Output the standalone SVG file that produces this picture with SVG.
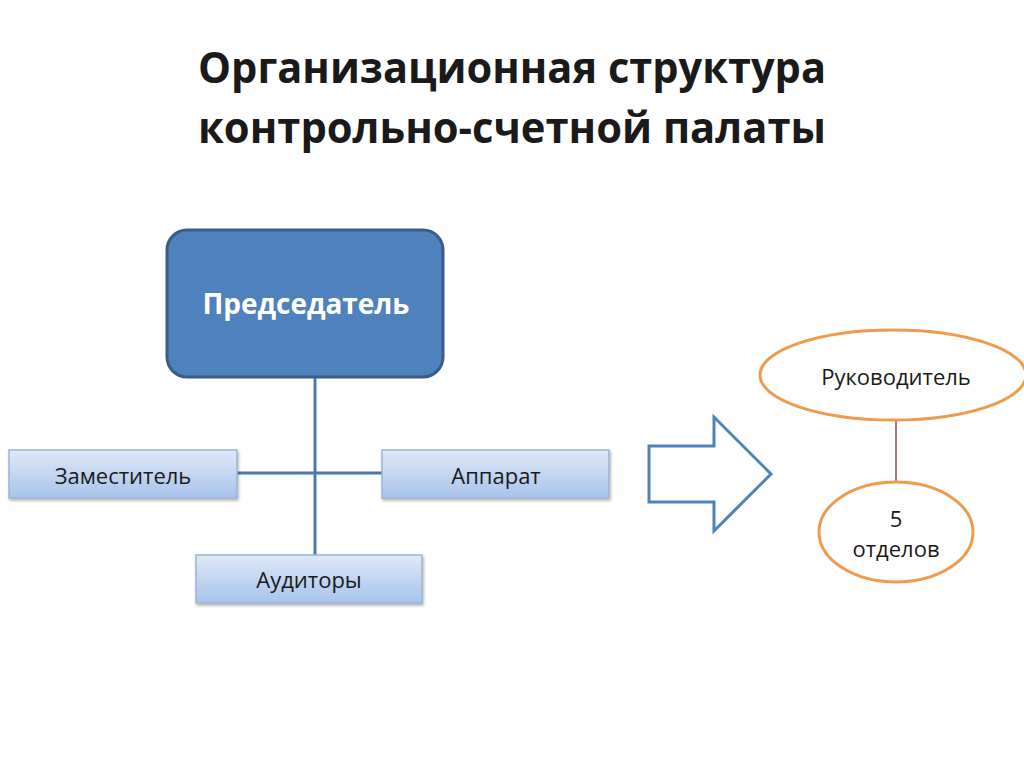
<svg xmlns="http://www.w3.org/2000/svg" width="1024" height="767" viewBox="0 0 1024 767">
<defs>
<linearGradient id="g" x1="0" y1="0" x2="0" y2="1">
<stop offset="0" stop-color="#dfe9f7"/>
<stop offset="1" stop-color="#a8c3ea"/>
</linearGradient>
<filter id="sh" x="-10%" y="-10%" width="130%" height="140%">
<feDropShadow dx="1" dy="2" stdDeviation="1.5" flood-color="#000" flood-opacity="0.3"/>
</filter>
</defs>
<style>
text{font-family:"Open Sans","Liberation Sans",sans-serif;text-anchor:middle}
.t{font-size:43px;font-weight:bold;fill:#1a1a1a}
.box{fill:url(#g);stroke:#9ab4d8;stroke-width:1.5;filter:url(#sh)}
.lbl{font-size:22px;fill:#1a1a1a}
.conn{stroke:#4a7ab5;stroke-width:3;fill:none}
.ell{fill:#fff;stroke:#f09a4c;stroke-width:3}
</style>
<rect width="1024" height="767" fill="#fff"/>
<text class="t" x="512" y="83" textLength="628" lengthAdjust="spacingAndGlyphs">Организационная структура</text>
<text class="t" x="512" y="143" textLength="628" lengthAdjust="spacingAndGlyphs">контрольно-счетной палаты</text>
<g id="connectors">
<line class="conn" x1="315" y1="377" x2="315" y2="555"/>
<line class="conn" x1="237" y1="473" x2="382" y2="473"/>
<line x1="896" y1="420" x2="896" y2="483" stroke="#9a4a45" stroke-width="1.5"/>
</g>
<g id="chair">
<rect x="167" y="230" width="276" height="147" rx="20" fill="#4f81bd" stroke="#385d8a" stroke-width="3"/>
<text x="306" y="314" font-size="28" font-weight="bold" fill="#fff" textLength="207" lengthAdjust="spacingAndGlyphs">Председатель</text>
</g>
<g id="deputy">
<rect class="box" x="9" y="450" width="228" height="48"/>
<text class="lbl" x="123" y="484">Заместитель</text>
</g>
<g id="apparat">
<rect class="box" x="382" y="450" width="227" height="48"/>
<text class="lbl" x="496" y="484">Аппарат</text>
</g>
<g id="auditors">
<rect class="box" x="196" y="555" width="226" height="48"/>
<text class="lbl" x="309" y="588">Аудиторы</text>
</g>
<g id="arrow">
<polygon points="649,446 714,446 714,417 771,474 714,531 714,502 649,502" fill="#fff" stroke="#4f81bd" stroke-width="3"/>
</g>
<g id="head">
<ellipse class="ell" cx="893" cy="375" rx="133" ry="45"/>
<text class="lbl" x="896" y="385">Руководитель</text>
</g>
<g id="departments">
<ellipse class="ell" cx="896" cy="532" rx="77" ry="50"/>
<text class="lbl" x="896" y="527">5</text>
<text class="lbl" x="896" y="557">отделов</text>
</g>
</svg>
